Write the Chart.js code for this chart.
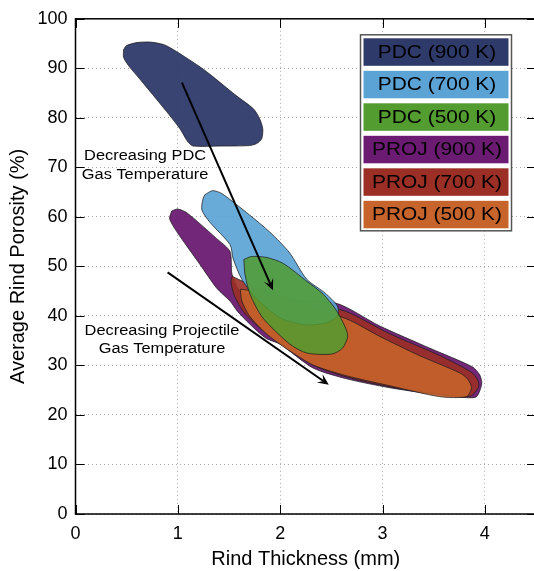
<!DOCTYPE html>
<html>
<head>
<meta charset="utf-8">
<script src="https://cdn.jsdelivr.net/npm/chart.js@4.4.1/dist/chart.umd.min.js"></script>
<style>
html, body { margin: 0; padding: 0; background: #fff; overflow: hidden; }
#wrap { width: 540px; height: 571px; }
</style>
</head>
<body>
<div id="wrap"><canvas id="myChart"></canvas></div>
<script>
// Tick values
const xTicks = [0, 1, 2, 3, 4];
const yTicks = [0, 10, 20, 30, 40, 50, 60, 70, 80, 90, 100];

// Region outlines, [thickness mm, porosity %]
const pdc900 = [[0.47,93.8],[0.50,94.6],[0.60,95.2],[0.73,95.3],[0.86,94.8],[0.955,93.8],[1.25,89.8],[1.57,84.5],[1.74,81.8],[1.80,79.8],[1.83,77.8],[1.82,75.8],[1.77,74.8],[1.70,74.4],[1.41,74.3],[1.15,74.3],[1.10,75.1],[1.02,77.8],[0.92,80.5],[0.79,83.8],[0.63,87.8],[0.52,90.5],[0.47,92.2]];
const pdc700 = [[1.265,64.5],[1.34,65.3],[1.43,64.7],[1.70,60.4],[1.90,56.9],[2.09,52.8],[2.26,47.4],[2.44,44.6],[2.56,42.0],[2.56,40.0],[2.45,38.6],[2.25,38.2],[2.00,39.6],[1.75,43.9],[1.62,47.6],[1.54,51.6],[1.51,54.4],[1.31,59.0],[1.235,61.4],[1.245,63.6]];
const pdc500 = [[1.645,51.4],[1.72,52.0],[1.87,51.8],[2.03,50.6],[2.26,47.0],[2.42,44.4],[2.54,41.4],[2.63,38.0],[2.66,35.9],[2.61,33.5],[2.505,32.3],[2.26,32.5],[2.095,34.3],[1.83,39.6],[1.705,44.4],[1.656,48.4]];
const proj900 = [[0.94,61.2],[1.00,61.6],[1.09,60.8],[1.38,55.6],[1.51,53.0],[1.53,48.4],[1.61,45.0],[1.90,43.2],[2.54,42.6],[2.97,38.0],[3.46,33.5],[3.88,29.7],[3.95,28.1],[3.97,26.3],[3.92,23.7],[3.82,23.5],[3.46,24.3],[3.07,25.5],[2.65,27.3],[2.32,29.5],[2.00,34.3],[1.86,35.5],[1.70,38.4],[1.58,41.0],[1.51,43.0],[1.38,45.6],[1.216,50.4],[0.99,57.0],[0.92,59.6]];
const proj700 = [[1.53,48.0],[1.70,46.4],[2.19,42.8],[2.63,41.0],[3.07,36.4],[3.56,32.0],[3.87,28.6],[3.93,27.1],[3.94,25.7],[3.87,23.9],[3.755,23.7],[3.46,24.5],[3.07,25.7],[2.68,27.5],[2.34,29.9],[2.03,34.1],[1.80,37.6],[1.636,41.0],[1.55,44.2],[1.52,46.8]];
const proj500 = [[1.61,45.4],[1.75,45.0],[2.095,43.0],[2.65,39.4],[2.97,35.9],[3.36,32.0],[3.755,28.5],[3.83,27.3],[3.87,25.5],[3.82,23.7],[3.56,23.7],[3.07,25.9],[2.65,27.9],[2.32,30.1],[2.095,32.9],[1.87,36.3],[1.70,40.0],[1.626,43.0]];

const seriesLabels = ['PDC (900 K)', 'PDC (700 K)', 'PDC (500 K)', 'PROJ (900 K)', 'PROJ (700 K)', 'PROJ (500 K)'];
const seriesData = [pdc900, pdc700, pdc500, proj900, proj700, proj500];
const seriesColors = ['46,58,106', '91,163,213', '82,156,48', '107,27,114', '155,47,38', '199,100,43'];
const seriesAlpha = [0.95, 0.92, 0.85, 0.95, 0.9, 0.88];
const drawOrder = [2, 1, 0, 5, 4, 3];   // higher is drawn first (underneath)

// Arrows [x0, y0, x1, y1] and text notes [x, y, line1, line2]
const arrows = [[1.04, 87.1, 1.93, 45.2], [0.90, 48.8, 2.475, 26.1]];
const notes = [[0.68, 70.3, 'Decreasing PDC', 'Gas Temperature'], [0.845, 35.1, 'Decreasing Projectile', 'Gas Temperature']];

const FONT = '"Liberation Sans", Arial, sans-serif';

function closed(arr) {
    return arr.concat([arr[0]]).map(([x, y]) => ({ x, y }));
}

const datasets = seriesData.map((arr, i) => ({
    label: seriesLabels[i],
    data: closed(arr),
    showLine: true,
    fill: 'shape',
    tension: 0.25,
    pointRadius: 0,
    borderWidth: 1,
    borderColor: 'rgba(30,30,30,0.75)',
    backgroundColor: `rgba(${seriesColors[i]},${seriesAlpha[i]})`,
    order: drawOrder[i]
}));

// Frame with inward ticks, arrows, notes and the boxed legend
const decorPlugin = {
    id: 'decor',
    afterDatasetsDraw(chart) {
        const { ctx, chartArea: a, scales: { x, y } } = chart;
        ctx.save();

        // arrows
        ctx.strokeStyle = '#000';
        ctx.fillStyle = '#000';
        ctx.lineWidth = 2;
        arrows.forEach(([x0, y0, x1, y1]) => {
            const p0x = x.getPixelForValue(x0), p0y = y.getPixelForValue(y0);
            const p1x = x.getPixelForValue(x1), p1y = y.getPixelForValue(y1);
            const ang = Math.atan2(p1y - p0y, p1x - p0x);
            const c = Math.cos(ang), s = Math.sin(ang);
            const len = 11, w = 5;
            ctx.beginPath();
            ctx.moveTo(p0x, p0y);
            ctx.lineTo(p1x - len * 0.6 * c, p1y - len * 0.6 * s);
            ctx.stroke();
            ctx.beginPath();
            ctx.moveTo(p1x, p1y);
            ctx.lineTo(p1x - len * c + w * s, p1y - len * s - w * c);
            ctx.lineTo(p1x - len * 0.6 * c, p1y - len * 0.6 * s);
            ctx.lineTo(p1x - len * c - w * s, p1y - len * s + w * c);
            ctx.closePath();
            ctx.fill();
        });

        // notes
        ctx.font = '14px ' + FONT;
        ctx.textAlign = 'center';
        ctx.textBaseline = 'middle';
        notes.forEach(([nx, ny, l1, l2]) => {
            const px = x.getPixelForValue(nx), py = y.getPixelForValue(ny);
            [l1, l2].forEach((t, k) => {
                ctx.save();
                ctx.translate(px, py - 9.3 + k * 18.6);
                ctx.scale(1.17, 1);
                ctx.fillText(t, 0, 0);
                ctx.restore();
            });
        });

        // frame and inward ticks
        ctx.lineWidth = 1.5;
        ctx.strokeStyle = '#000';
        ctx.strokeRect(a.left, a.top, a.right - a.left, a.bottom - a.top);
        ctx.lineWidth = 1;
        ctx.beginPath();
        xTicks.forEach(v => {
            const px = Math.round(x.getPixelForValue(v)) + 0.5;
            ctx.moveTo(px, a.bottom); ctx.lineTo(px, a.bottom - 9);
            ctx.moveTo(px, a.top); ctx.lineTo(px, a.top + 9);
        });
        yTicks.forEach(v => {
            const py = Math.round(y.getPixelForValue(v)) + 0.5;
            ctx.moveTo(a.left, py); ctx.lineTo(a.left + 9, py);
            ctx.moveTo(a.right, py); ctx.lineTo(a.right - 9, py);
        });
        ctx.stroke();
        ctx.restore();
    },
    afterDraw(chart) {
        const { ctx, chartArea: a } = chart;
        const left = a.left + 285, top = a.top + 16;
        const boxW = 151, boxH = 196;
        ctx.save();
        ctx.fillStyle = '#fff';
        ctx.fillRect(left, top, boxW, boxH);
        ctx.strokeStyle = '#555';
        ctx.lineWidth = 1.5;
        ctx.strokeRect(left, top, boxW, boxH);
        ctx.font = '18px ' + FONT;
        ctx.textAlign = 'center';
        ctx.textBaseline = 'middle';
        seriesLabels.forEach((lab, i) => {
            const ey = top + 3.5 + i * 32.5;
            ctx.fillStyle = `rgb(${seriesColors[i]})`;
            ctx.fillRect(left + 3, ey, boxW - 6, 27.5);
            ctx.fillStyle = '#000';
            ctx.save();
            ctx.translate(left + boxW / 2 + 1, ey + 14.5);
            ctx.scale(1.16, 1);
            ctx.fillText(lab, 0, 0);
            ctx.restore();
        });
        ctx.restore();
    }
};

let myChart;
document.addEventListener('DOMContentLoaded', function () {
    const ctx = document.getElementById('myChart').getContext('2d');
    myChart = new Chart(ctx, {
        type: 'scatter',
        data: { datasets },
        plugins: [decorPlugin],
        options: {
            responsive: true,
            maintainAspectRatio: false,
            animation: false,
            layout: { padding: { top: 16, right: 4, left: 0, bottom: 0 } },
            plugins: { legend: { display: false }, tooltip: { enabled: false } },
            scales: {
                x: {
                    type: 'linear',
                    min: 0, max: 4.5,
                    afterBuildTicks: axis => { axis.ticks = xTicks.map(v => ({ value: v })); },
                    afterFit: axis => { axis.height = 57; },
                    grid: { color: '#aaaaaa', lineWidth: 1, drawTicks: false },
                    border: { display: false, dash: [1, 3] },
                    ticks: { color: '#000', padding: 9, font: { family: FONT, size: 18 }, maxRotation: 0 },
                    title: { display: true, text: 'Rind Thickness (mm)', color: '#000', font: { family: FONT, size: 20 }, padding: { top: 0, bottom: 0 } }
                },
                y: {
                    type: 'linear',
                    min: 0, max: 100,
                    afterBuildTicks: axis => { axis.ticks = yTicks.map(v => ({ value: v })); },
                    afterFit: axis => { axis.width = 75.5; },
                    grid: { color: '#aaaaaa', lineWidth: 1, drawTicks: false },
                    border: { display: false, dash: [1, 3] },
                    ticks: { color: '#000', padding: 8, font: { family: FONT, size: 18 } },
                    title: { display: true, text: 'Average Rind Porosity (%)', color: '#000', font: { family: FONT, size: 20 }, padding: { top: 6, bottom: 0 } }
                }
            }
        }
    });
});
</script>
</body>
</html>
